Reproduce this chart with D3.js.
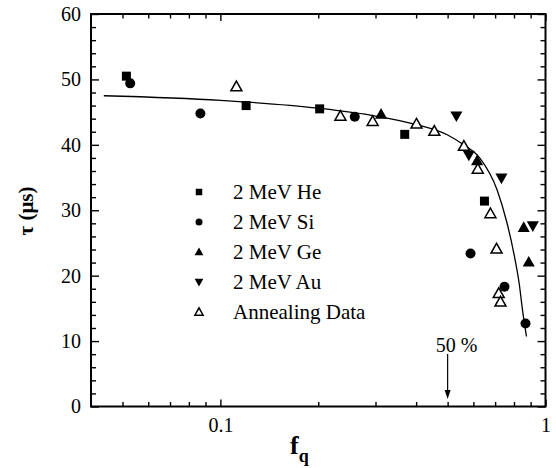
<!DOCTYPE html>
<html>
<head>
<meta charset="utf-8">
<script src="https://cdn.jsdelivr.net/npm/d3@7"></script>
<style>
  body { margin: 0; background: #fff; }
  svg { display: block; }
  text { font-family: "Liberation Serif", "Times New Roman", serif; fill: #000; }
</style>
</head>
<body>
<svg id="chart" width="556" height="468"></svg>
<script>
// Lifetime tau (us) versus quenched fraction f_q for each implant species
const heF = [0.0514, 0.120, 0.202, 0.369, 0.649];
const heT = [50.5, 46.0, 45.5, 41.6, 31.4];

const siF = [0.0528, 0.0868, 0.259, 0.588, 0.748, 0.868];
const siT = [49.4, 44.8, 44.3, 23.4, 18.3, 12.7];

const geF = [0.312, 0.616, 0.857, 0.888];
const geT = [44.7, 37.6, 27.4, 22.1];

const auF = [0.532, 0.581, 0.732, 0.914];
const auT = [44.4, 38.4, 34.9, 27.6];

const annF = [0.112, 0.234, 0.294, 0.401, 0.455, 0.561, 0.619, 0.677, 0.707, 0.718, 0.727];
const annT = [48.9, 44.4, 43.6, 43.2, 42.1, 39.8, 36.3, 29.5, 24.1, 17.3, 16.0];

// Model curve through the data
const fitF = [0.0438, 0.1, 0.2, 0.3, 0.4, 0.5, 0.56, 0.63, 0.71, 0.76, 0.80, 0.83, 0.85, 0.874];
const fitT = [47.5, 46.8, 45.6, 44.4, 43.1, 41.5, 40.0, 37.9, 33.1, 28.2, 23.3, 18.8, 14.7, 10.7];

const legendLabels = ["2 MeV He", "2 MeV Si", "2 MeV Ge", "2 MeV Au", "Annealing Data"];
const xMajorTicks = [0.1, 1];
const xMinorTicks = [0.05, 0.06, 0.07, 0.08, 0.09, 0.2, 0.3, 0.4, 0.5, 0.6, 0.7, 0.8, 0.9];
const yMajorTicks = [0, 10, 20, 30, 40, 50, 60];
const yMinorTicks = d3.range(0, 61, 2).filter(v => v % 10 !== 0);

const svg = d3.select("#chart");
const L = 91, R = 545.5, T = 14, B = 406.5;

const x = d3.scaleLog().domain([0.04, 1]).range([L, R]);
const y = d3.scaleLinear().domain([0, 60]).range([B, T]);

function styleAxis(g) {
  g.select(".domain").remove();
  g.selectAll(".tick line").attr("stroke", "#000").attr("stroke-width", 1.4);
  g.selectAll(".tick text").style("font-size", "20px").attr("fill", "#000");
}

// bottom axis
svg.append("g").attr("transform", `translate(0,${B})`)
  .call(d3.axisBottom(x).tickValues(xMinorTicks).tickSizeInner(-4.5).tickSizeOuter(0).tickFormat(""))
  .call(styleAxis);
svg.append("g").attr("transform", `translate(0,${B})`)
  .call(d3.axisBottom(x).tickValues(xMajorTicks).tickSizeInner(-7).tickSizeOuter(0).tickPadding(11)
    .tickFormat(d => d === 1 ? "1" : "0.1"))
  .call(styleAxis);
// top axis (ticks only)
svg.append("g").attr("transform", `translate(0,${T})`)
  .call(d3.axisTop(x).tickValues(xMinorTicks).tickSizeInner(-4.5).tickSizeOuter(0).tickFormat(""))
  .call(styleAxis);
svg.append("g").attr("transform", `translate(0,${T})`)
  .call(d3.axisTop(x).tickValues(xMajorTicks).tickSizeInner(-7).tickSizeOuter(0).tickFormat(""))
  .call(styleAxis);
// left axis
svg.append("g").attr("transform", `translate(${L},0)`)
  .call(d3.axisLeft(y).tickValues(yMinorTicks).tickSizeInner(-5).tickSizeOuter(0).tickFormat(""))
  .call(styleAxis);
svg.append("g").attr("transform", `translate(${L},0)`)
  .call(d3.axisLeft(y).tickValues(yMajorTicks).tickSizeInner(-8).tickSizeOuter(0).tickPadding(10).tickFormat(d3.format("d")))
  .call(styleAxis);
// right axis (ticks only)
svg.append("g").attr("transform", `translate(${R},0)`)
  .call(d3.axisRight(y).tickValues(yMinorTicks).tickSizeInner(-5).tickSizeOuter(0).tickFormat(""))
  .call(styleAxis);
svg.append("g").attr("transform", `translate(${R},0)`)
  .call(d3.axisRight(y).tickValues(yMajorTicks).tickSizeInner(-8).tickSizeOuter(0).tickFormat(""))
  .call(styleAxis);

// frame
svg.append("rect").attr("x", L).attr("y", T).attr("width", R - L).attr("height", B - T)
  .attr("fill", "none").attr("stroke", "#000").attr("stroke-width", 2);

// fitted curve
const fit = fitF.map((f, i) => [f, fitT[i]]);
svg.append("path").datum(fit)
  .attr("fill", "none").attr("stroke", "#000").attr("stroke-width", 1.3)
  .attr("d", d3.line().x(d => x(d[0])).y(d => y(d[1])).curve(d3.curveMonotoneX));

// marker shapes
const shapes = {
  square: s => `M${-s/2},${-s/2}h${s}v${s}h${-s}Z`,
  up: s => `M0,${-s*0.55}L${s*0.55},${s*0.42}L${-s*0.55},${s*0.42}Z`,
  down: s => `M0,${s*0.55}L${s*0.55},${-s*0.42}L${-s*0.55},${-s*0.42}Z`
};
function drawMarker(g, kind, size) {
  if (kind === "circle") {
    g.append("circle").attr("r", size / 2).attr("fill", "#000");
  } else if (kind === "open") {
    g.append("path").attr("d", shapes.up(size)).attr("fill", "#fff")
      .attr("stroke", "#000").attr("stroke-width", 1.5);
  } else {
    g.append("path").attr("d", shapes[kind](size)).attr("fill", "#000");
  }
}

const series = [
  { f: heF, t: heT, kind: "square", size: 9 },
  { f: siF, t: siT, kind: "circle", size: 10 },
  { f: geF, t: geT, kind: "up", size: 11 },
  { f: auF, t: auT, kind: "down", size: 11 },
  { f: annF, t: annT, kind: "open", size: 10 }
];

series.forEach(s => {
  s.f.forEach((f, i) => {
    const g = svg.append("g").attr("transform", `translate(${x(f)},${y(s.t[i])})`);
    drawMarker(g, s.kind, s.size);
  });
});

// legend
const legendSizes = [6.5, 7, 8, 8, 7.5];
legendLabels.forEach((lab, i) => {
  const yy = 192 + i * 30;
  const g = svg.append("g").attr("transform", `translate(199,${yy})`);
  drawMarker(g, series[i].kind, legendSizes[i]);
  svg.append("text").attr("x", 233).attr("y", yy).attr("dy", "0.35em")
    .style("font-size", "21px").text(lab);
});

// 50 % marker arrow
const xh = x(0.5);
svg.append("line").attr("x1", xh).attr("x2", xh).attr("y1", 354).attr("y2", 391)
  .attr("stroke", "#000").attr("stroke-width", 1.2);
svg.append("path").attr("d", `M${xh - 3},390L${xh + 3},390L${xh},399Z`).attr("fill", "#000");
svg.append("text").attr("x", xh + 9).attr("y", 352).attr("text-anchor", "middle")
  .style("font-size", "20px").text("50 %");

// axis titles
const xt = svg.append("text").attr("x", 290).attr("y", 454).style("font-weight", "bold");
xt.append("tspan").style("font-size", "26px").text("f");
xt.append("tspan").attr("dy", 8).style("font-size", "18px").text("q");

svg.append("text").attr("transform", "translate(33,211) rotate(-90)")
  .attr("text-anchor", "middle").style("font-weight", "bold").style("font-size", "21px")
  .text("τ (μs)");
</script>
</body>
</html>
